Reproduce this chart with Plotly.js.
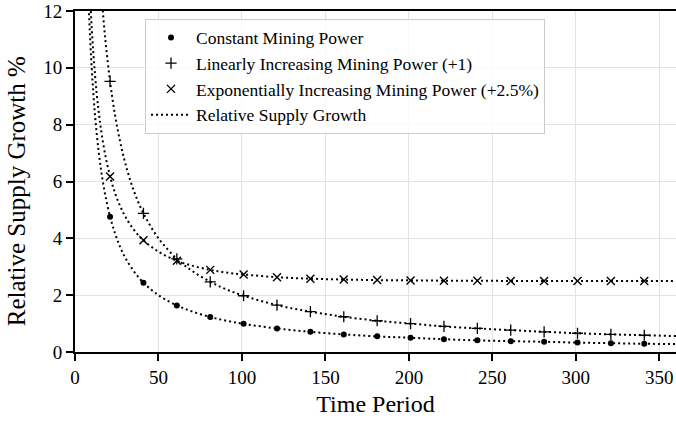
<!DOCTYPE html>
<html>
<head>
<meta charset="utf-8">
<script src="https://cdn.plot.ly/plotly-3.0.1.min.js"></script>
<style>html,body{margin:0;padding:0;background:#fff;} #chart{width:676px;height:421px;}</style>
</head>
<body>
<div id="chart"></div>
<script>
// Marker positions (every 20th time period)
const markerX = [21,41,61,81,101,121,141,161,181,201,221,241,261,281,301,321,341];
const constantMarkers = [4.76,2.44,1.64,1.23,0.99,0.83,0.71,0.62,0.55,0.50,0.45,0.41,0.38,0.36,0.33,0.31,0.29];
const linearMarkers   = [9.52,4.88,3.28,2.47,1.98,1.65,1.42,1.24,1.10,1.00,0.90,0.83,0.77,0.71,0.66,0.62,0.59];
const expMarkers      = [6.18,3.93,3.21,2.89,2.73,2.63,2.58,2.55,2.53,2.52,2.51,2.51,2.50,2.50,2.50,2.50,2.50];

// Dotted curve samples
const curveX = [6,7,8,9,10,11,12,13,14,15,16,18,21,24,27,30,35,41,50,61,70,81,90,101,121,141,161,181,201,221,241,261,281,301,321,341,360];
const constantCurve = [16.67,14.29,12.5,11.11,10.0,9.09,8.33,7.69,7.14,6.67,6.25,5.56,4.76,4.17,3.70,3.33,2.86,2.44,2.0,1.64,1.43,1.23,1.11,0.99,0.83,0.71,0.62,0.55,0.50,0.45,0.41,0.38,0.36,0.33,0.31,0.29,0.28];
const linearCurve   = [33.3,28.6,25.0,22.2,20.0,18.2,16.7,15.4,14.3,13.3,12.5,11.1,9.52,8.33,7.41,6.67,5.71,4.88,4.0,3.28,2.86,2.47,2.22,1.98,1.65,1.42,1.24,1.10,1.00,0.90,0.83,0.77,0.71,0.66,0.62,0.59,0.56];
const expCurve      = [18.15,15.75,13.94,12.54,11.43,10.51,9.75,9.10,8.55,8.08,7.66,6.97,6.18,5.59,5.14,4.78,4.32,3.93,3.53,3.21,3.04,2.89,2.80,2.73,2.63,2.58,2.55,2.53,2.52,2.51,2.51,2.50,2.50,2.50,2.50,2.50,2.50];

const xTicks = [0,50,100,150,200,250,300,350];
const yTicks = [0,2,4,6,8,10,12];

const seriesNames = ["Constant Mining Power","Linearly Increasing Mining Power (+1)","Exponentially Increasing Mining Power (+2.5%)","Relative Supply Growth"];
const xTitle = "Time Period";
const yTitle = "Relative Supply Growth %";

const FONT = "Liberation Serif, Times New Roman, serif";
const dotLine = {color:"black", width:2, dash:"2px,3px", shape:"spline"};

const traces = [
  {x:curveX, y:constantCurve, mode:"lines", line:dotLine, name:seriesNames[3], showlegend:true, legendrank:4, hoverinfo:"skip"},
  {x:curveX, y:linearCurve, mode:"lines", line:dotLine, showlegend:false, hoverinfo:"skip"},
  {x:curveX, y:expCurve, mode:"lines", line:dotLine, showlegend:false, hoverinfo:"skip"},
  {x:markerX, y:constantMarkers, mode:"markers", name:seriesNames[0], legendrank:1,
   marker:{symbol:"circle", size:6, color:"black"}},
  {x:markerX, y:linearMarkers, mode:"markers", name:seriesNames[1], legendrank:2,
   marker:{symbol:"cross-thin", size:8, color:"black", line:{color:"black", width:1.3}}},
  {x:markerX, y:expMarkers, mode:"markers", name:seriesNames[2], legendrank:3,
   marker:{symbol:"x-thin", size:8, color:"black", line:{color:"black", width:1.4}}}
];

const layout = {
  width:676, height:421,
  margin:{l:75, r:0, t:11, b:69},
  paper_bgcolor:"white", plot_bgcolor:"white",
  font:{family:FONT, color:"black", size:19},
  showlegend:true,
  legend:{x:0.1165, y:0.978, xanchor:"left", yanchor:"top",
    bgcolor:"rgba(255,255,255,0.8)", bordercolor:"#cccccc", borderwidth:1,
    itemwidth:40,
    font:{family:FONT, size:17.5, color:"black"}, tracegroupgap:0, traceorder:"normal"},
  xaxis:{range:[0,360], tickvals:xTicks, ticktext:xTicks.map(String),
    showline:true, linecolor:"black", linewidth:2, mirror:true,
    ticks:"outside", ticklen:7, tickwidth:2, tickcolor:"black",
    showgrid:true, gridcolor:"#e3e3e3", gridwidth:1, zeroline:false,
    tickfont:{family:FONT, size:19},
    title:{text:xTitle, font:{family:FONT, size:24}, standoff:8}},
  yaxis:{range:[0,12], tickvals:yTicks, ticktext:yTicks.map(String),
    showline:true, linecolor:"black", linewidth:2,
    ticks:"outside", ticklen:7, tickwidth:2, tickcolor:"black",
    showgrid:true, gridcolor:"#e3e3e3", gridwidth:1, zeroline:false,
    tickfont:{family:FONT, size:19}},
  annotations:[{text:yTitle, textangle:-90, xref:"paper", yref:"paper",
    x:0, xshift:-74, xanchor:"left", y:0.47, yanchor:"middle", showarrow:false,
    font:{family:FONT, size:25, color:"black"}}]
};

Plotly.newPlot("chart", traces, layout, {displayModeBar:false, staticPlot:true});
</script>
</body>
</html>
